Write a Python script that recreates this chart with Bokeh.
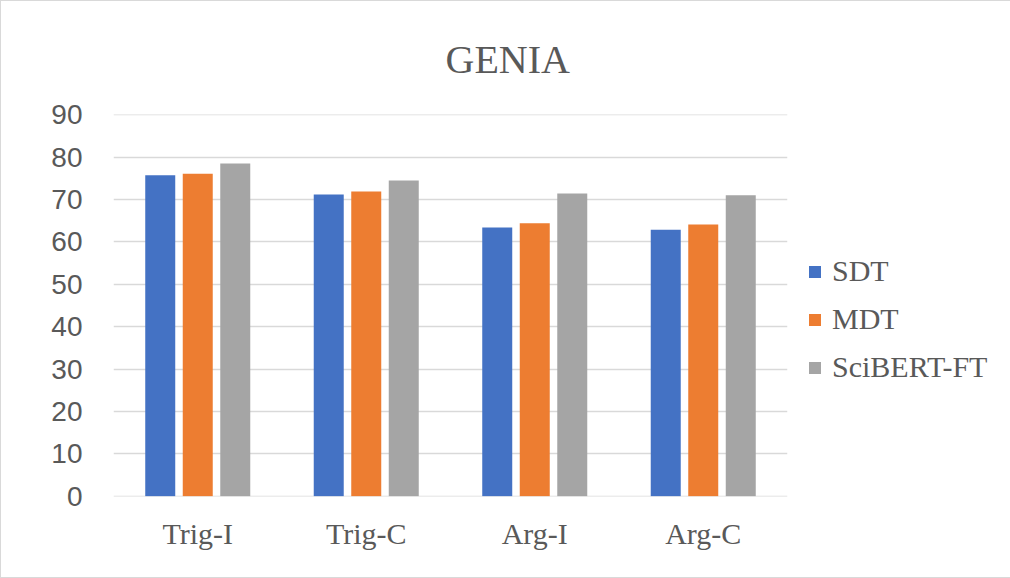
from bokeh.plotting import figure
from bokeh.models import ColumnDataSource, Legend, LegendItem
from bokeh.transform import dodge
from bokeh.embed import file_html
from bokeh.resources import INLINE

categories = ["Trig-I", "Trig-C", "Arg-I", "Arg-C"]
sdt = [75.7, 71.2, 63.4, 62.9]
mdt = [76.1, 71.9, 64.4, 64.1]
scibert = [78.5, 74.5, 71.4, 71.0]
series_names = ["SDT", "MDT", "SciBERT-FT"]
colors = ["#4472C4", "#ED7D31", "#A5A5A5"]
y_ticks = [0, 10, 20, 30, 40, 50, 60, 70, 80, 90]

src = ColumnDataSource(dict(cat=categories, sdt=sdt, mdt=mdt, sci=scibert))

p = figure(x_range=categories, y_range=(-0.06, 90.06),
           frame_width=674, frame_height=382,
           output_backend="svg", toolbar_location=None,
           min_border_left=112, min_border_right=222,
           min_border_top=113, min_border_bottom=81)

offs = [-0.2226, 0.0, 0.2226]
fields = ["sdt", "mdt", "sci"]
renderers = []
for f, o, c in zip(fields, offs, colors):
    r = p.vbar(x=dodge("cat", o, range=p.x_range), top=f, width=0.178,
               source=src, fill_color=c, line_color=None)
    renderers.append(r)

p.title.text = "GENIA"
p.title.align = "left"
p.title.vertical_align = "top"
p.title.text_font = "Liberation Serif"
p.title.text_font_size = "40px"
p.title.text_font_style = "normal"
p.title.text_color = "#595959"
p.title.offset = 332
p.title.standoff = 62

p.outline_line_color = None
p.xgrid.grid_line_color = None
p.ygrid.grid_line_color = "#D9D9D9"
p.ygrid.grid_line_width = 1.5
p.yaxis.ticker = y_ticks

for ax in (p.xaxis, p.yaxis):
    ax.axis_line_color = None
    ax.major_tick_line_color = None
    ax.minor_tick_line_color = None
    ax.major_tick_in = 0
    ax.major_tick_out = 0
    ax.minor_tick_out = 0
    ax.major_label_text_color = "#595959"

p.yaxis.major_label_text_font = "Liberation Sans"
p.yaxis.major_label_text_font_size = "28px"
p.yaxis.major_label_standoff = 31
p.xaxis.major_label_text_font = "Liberation Serif"
p.xaxis.major_label_text_font_size = "30px"
p.xaxis.major_label_standoff = 20

legend = Legend(items=[LegendItem(label=n, renderers=[r]) for n, r in zip(series_names, renderers)],
                location=(20, 105), orientation="vertical")
legend.label_text_font = "Liberation Serif"
legend.label_text_font_size = "30px"
legend.label_text_color = "#595959"
legend.glyph_width = 15
legend.glyph_height = 15
legend.label_standoff = 10
legend.label_height = 48
legend.spacing = 0
legend.padding = 0
legend.margin = 0
legend.border_line_color = None
legend.background_fill_alpha = 0
p.add_layout(legend, "right")

p.styles = {"border": "1px solid #D9D9D9", "box-sizing": "border-box"}

open("out.html", "w").write(file_html(p, INLINE))
